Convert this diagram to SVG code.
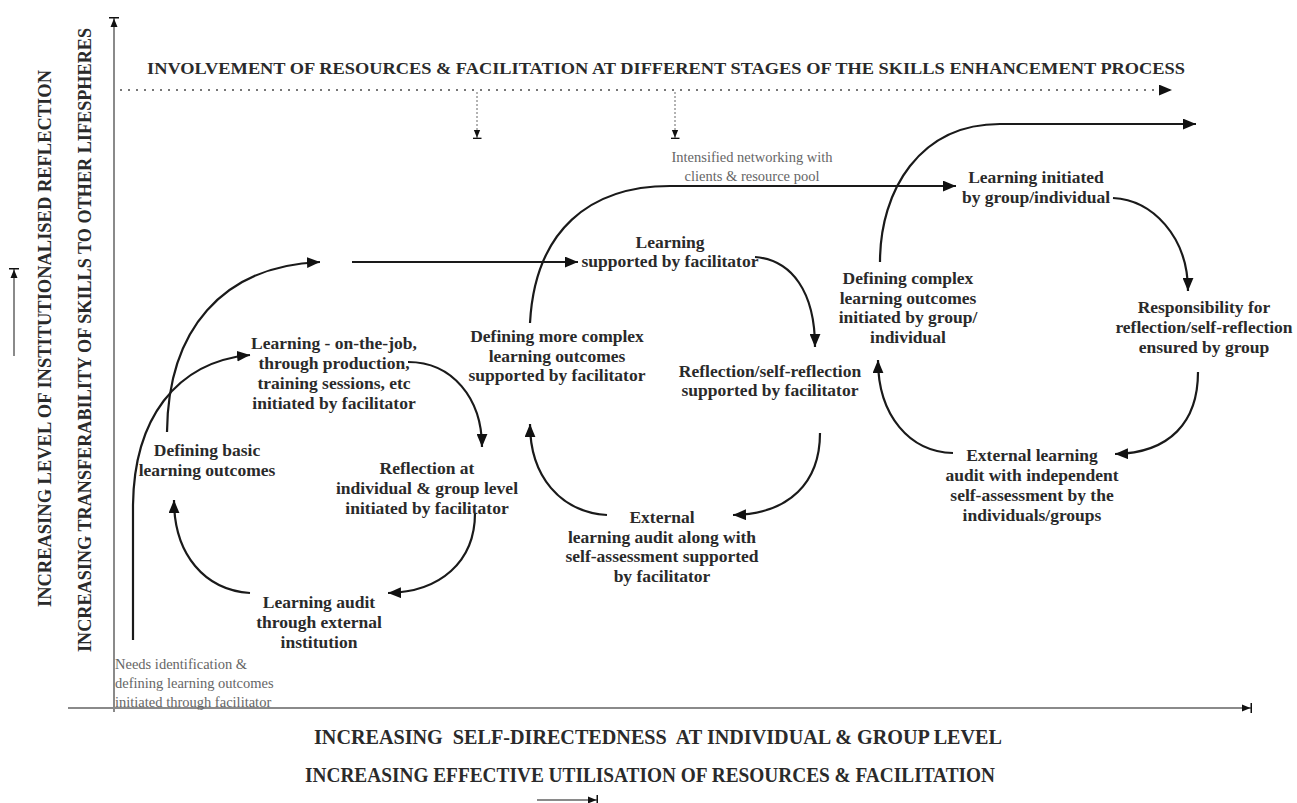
<svg xmlns="http://www.w3.org/2000/svg" width="1297" height="803" viewBox="0 0 1297 803">
<style>
.n{font-family:"Liberation Serif","Times New Roman",serif;font-weight:bold;font-size:17.5px;fill:#2a2a2a;text-anchor:middle}
.g{font-family:"Liberation Serif","Times New Roman",serif;font-size:14.5px;fill:#666}
.cap{font-family:"Liberation Serif","Times New Roman",serif;font-weight:bold;fill:#2a2a2a}
.c{fill:none;stroke:#1a1a1a;stroke-width:2.2;marker-end:url(#ah)}
.ax{fill:none;stroke:#8a8a8a;stroke-width:2}
</style>
<defs>
<marker id="ah" viewBox="0 0 12 10" markerWidth="13" markerHeight="11" refX="12" refY="5" orient="auto" markerUnits="userSpaceOnUse"><path d="M0,0 L12,5 L0,10 z" fill="#111"/></marker>
<marker id="bar" viewBox="0 0 10 10" markerWidth="10" markerHeight="10" refX="10" refY="5" orient="auto" markerUnits="userSpaceOnUse"><path d="M0,1.5 L8.5,5 L0,8.5 z" fill="#111"/><rect x="8.5" y="0" width="1.5" height="10" fill="#111"/></marker>
<marker id="bars" viewBox="0 0 10 10" markerWidth="9" markerHeight="9" refX="10" refY="5" orient="auto" markerUnits="userSpaceOnUse"><path d="M0,1.5 L8.5,5 L0,8.5 z" fill="#111"/><rect x="8.5" y="0" width="1.5" height="10" fill="#111"/></marker>
</defs>
<rect width="1297" height="803" fill="#fff"/>

<g id="axes">
<path class="ax" d="M114,712 L114,17" marker-end="url(#bar)"/>
<path class="ax" d="M68,708 L1252,708" marker-end="url(#bar)"/>
<path class="ax" d="M14,356 L14,268" marker-end="url(#bar)"/>
<path class="ax" d="M537,800 L598,800" marker-end="url(#bar)"/>
</g>

<g id="axis-labels">
<text class="cap" font-size="19" transform="translate(51,607) rotate(-90)" textLength="537" lengthAdjust="spacingAndGlyphs">INCREASING LEVEL OF INSTITUTIONALISED REFLECTION</text>
<text class="cap" font-size="19" transform="translate(91,652) rotate(-90)" textLength="624" lengthAdjust="spacingAndGlyphs">INCREASING TRANSFERABILITY OF SKILLS TO OTHER LIFESPHERES</text>
<text class="cap" font-size="17" x="147" y="74" textLength="1038" lengthAdjust="spacingAndGlyphs">INVOLVEMENT OF RESOURCES &amp; FACILITATION AT DIFFERENT STAGES OF THE SKILLS ENHANCEMENT PROCESS</text>
<text class="cap" font-size="20" x="314" y="744" textLength="688" lengthAdjust="spacingAndGlyphs" xml:space="preserve">INCREASING  SELF-DIRECTEDNESS  AT INDIVIDUAL &amp; GROUP LEVEL</text>
<text class="cap" font-size="20" x="305" y="782" textLength="690" lengthAdjust="spacingAndGlyphs">INCREASING EFFECTIVE UTILISATION OF RESOURCES &amp; FACILITATION</text>
</g>

<g id="connectors">
<path d="M120,90 L1172,90" fill="none" stroke="#777" stroke-width="2" stroke-dasharray="2 6" marker-end="url(#ah)"/>
<path d="M477,92 L477,139" fill="none" stroke="#666" stroke-width="1" stroke-dasharray="2 2" marker-end="url(#bars)"/>
<path d="M675,92 L675,139" fill="none" stroke="#666" stroke-width="1" stroke-dasharray="2 2" marker-end="url(#bars)"/>
<path class="c" d="M133,640 L133,505 C134,420 175,362 250,355"/>
<path class="c" d="M167,432 C168,330 222,266 320,262"/>
<path class="c" d="M352,262 L578,262"/>
<path class="c" d="M408,362 C452,362 482,398 482,447"/>
<path class="c" d="M475,513 C475,562 440,592 388,593"/>
<path class="c" d="M250,593 C205,590 174,555 174,500"/>
<path class="c" d="M530,323 C535,230 590,186 670,186 L956,186"/>
<path class="c" d="M755,257 C792,260 815,292 815,347"/>
<path class="c" d="M820,433 C820,482 790,514 733,515"/>
<path class="c" d="M607,515 C560,512 530,476 530,424"/>
<path class="c" d="M880,262 C880,190 920,124 1000,124 L1196,124"/>
<path class="c" d="M1113,198 C1152,200 1188,236 1188,291"/>
<path class="c" d="M1198,372 C1198,422 1170,453 1115,454"/>
<path class="c" d="M953,453 C910,452 878,416 878,360"/>
</g>

<g id="needs"><text class="g" x="115" y="669"><tspan x="115">Needs identification &amp;</tspan><tspan x="115" dy="19">defining learning outcomes</tspan><tspan x="115" dy="19">initiated through facilitator</tspan></text></g>
<g id="def-basic"><text class="n" y="456"><tspan x="207">Defining basic</tspan><tspan x="207" dy="20">learning outcomes</tspan></text></g>
<g id="learning-job"><text class="n" y="349"><tspan x="334">Learning - on-the-job,</tspan><tspan x="334" dy="20">through production,</tspan><tspan x="334" dy="20">training sessions, etc</tspan><tspan x="334" dy="20">initiated by facilitator</tspan></text></g>
<g id="reflection1"><text class="n" y="474"><tspan x="427">Reflection at</tspan><tspan x="427" dy="20">individual &amp; group level</tspan><tspan x="427" dy="20">initiated by facilitator</tspan></text></g>
<g id="audit1"><text class="n" y="608"><tspan x="319">Learning audit</tspan><tspan x="319" dy="20">through external</tspan><tspan x="319" dy="20">institution</tspan></text></g>
<g id="def-more"><text class="n" y="342"><tspan x="557">Defining more complex</tspan><tspan x="557" dy="19.5">learning outcomes</tspan><tspan x="557" dy="19.5">supported by facilitator</tspan></text></g>
<g id="learning2"><text class="n" y="248"><tspan x="670">Learning</tspan><tspan x="670" dy="19">supported by facilitator</tspan></text></g>
<g id="reflection2"><text class="n" y="377"><tspan x="770">Reflection/self-reflection</tspan><tspan x="770" dy="19">supported by facilitator</tspan></text></g>
<g id="audit2"><text class="n" y="523"><tspan x="662">External</tspan><tspan x="662" dy="19.5">learning audit along with</tspan><tspan x="662" dy="19.5">self-assessment supported</tspan><tspan x="662" dy="19.5">by facilitator</tspan></text></g>
<g id="networking"><text class="g" y="162" text-anchor="middle"><tspan x="752">Intensified networking with</tspan><tspan x="752" dy="19">clients &amp; resource pool</tspan></text></g>
<g id="def-complex"><text class="n" y="284"><tspan x="908">Defining complex</tspan><tspan x="908" dy="19.5">learning outcomes</tspan><tspan x="908" dy="19.5">initiated by group/</tspan><tspan x="908" dy="19.5">individual</tspan></text></g>
<g id="learning3"><text class="n" y="183"><tspan x="1036">Learning initiated</tspan><tspan x="1036" dy="20">by group/individual</tspan></text></g>
<g id="responsibility"><text class="n" y="313"><tspan x="1204">Responsibility for</tspan><tspan x="1204" dy="20">reflection/self-reflection</tspan><tspan x="1204" dy="20">ensured by group</tspan></text></g>
<g id="audit3"><text class="n" y="461"><tspan x="1032">External learning</tspan><tspan x="1032" dy="20">audit with independent</tspan><tspan x="1032" dy="20">self-assessment by the</tspan><tspan x="1032" dy="20">individuals/groups</tspan></text></g>
</svg>
